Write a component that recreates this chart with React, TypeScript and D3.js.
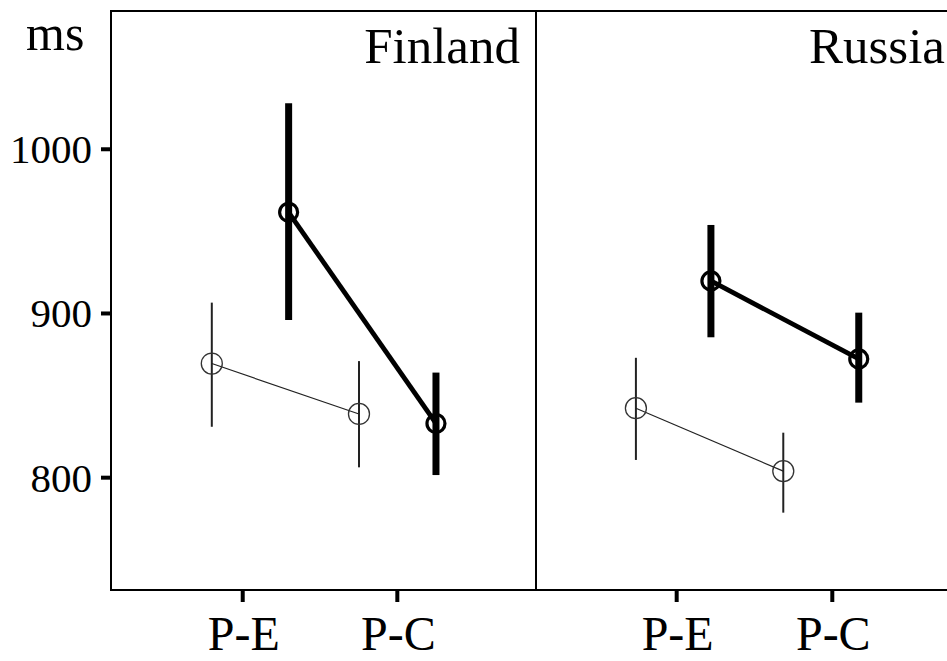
import React, { useEffect, useRef } from 'react';
import * as d3 from 'd3';

const categories = ['P-E', 'P-C'];
const countries = ['Finland', 'Russia'];
const yTicks = [800, 900, 1000];
const yLimits = [731.6, 1084.2];
// x limits of each panel in category units (1 = P-E, 2 = P-C)
const xLimits = [[0.148, 2.897], [0.096, 2.827]];

// dodged x position of each point, category units
const thinX = [[0.8, 1.752], [0.738, 1.685]];
const thickX = [[1.297, 2.25], [1.22, 2.17]];

const thinMean = [[869.5, 838.8], [842.3, 804]];
const thinLow = [[831, 806.3], [810.8, 778.7]];
const thinHigh = [[906.6, 871], [873, 827.4]];

const thickMean = [[961.6, 833], [919.8, 872.3]];
const thickLow = [[896, 801.6], [885.5, 845.7]];
const thickHigh = [[1028, 864], [953.9, 900.5]];

const W = 947;
const H = 661;

export default function App() {
  const svgRef = useRef<SVGSVGElement>(null);

  useEffect(() => {
    if (!svgRef.current) return;
    const svg = d3.select(svgRef.current);
    svg.selectAll('*').remove();

    const margin = { top: 11, left: 111, bottom: 71 };
    const panelW = 425;
    const plotH = H - margin.top - margin.bottom;
    const font = '"Liberation Serif", "Times New Roman", serif';

    const y = d3.scaleLinear().domain(yLimits).range([margin.top + plotH, margin.top]);

    // y axis
    const yAxis = svg.append('g').attr('transform', `translate(${margin.left},0)`);
    yAxis.selectAll('line.tick')
      .data(yTicks)
      .enter().append('line')
      .attr('x1', -10).attr('x2', 0)
      .attr('y1', d => y(d)).attr('y2', d => y(d))
      .attr('stroke', '#000').attr('stroke-width', 4);
    yAxis.selectAll('text')
      .data(yTicks)
      .enter().append('text')
      .attr('x', -19)
      .attr('y', d => y(d))
      .attr('dy', '0.34em')
      .attr('text-anchor', 'end')
      .attr('font-family', font)
      .attr('font-size', 41)
      .text(d => d);

    svg.append('text')
      .attr('x', 26).attr('y', 50)
      .attr('font-family', font).attr('font-size', 50)
      .text('ms');

    const series = [
      { x: thinX, mean: thinMean, low: thinLow, high: thinHigh, bar: 2, line: 1.2, ring: 1.3, r: 10.5, color: '#222' },
      { x: thickX, mean: thickMean, low: thickLow, high: thickHigh, bar: 7, line: 4.8, ring: 3.2, r: 9, color: '#000' },
    ];

    countries.forEach((country, p) => {
      const left = margin.left + p * panelW;
      const x = d3.scaleLinear().domain(xLimits[p]).range([left, left + panelW]);
      const g = svg.append('g');

      // x ticks and labels
      g.selectAll('line.xt')
        .data(categories)
        .enter().append('line')
        .attr('x1', (d, i) => x(i + 1)).attr('x2', (d, i) => x(i + 1))
        .attr('y1', margin.top + plotH).attr('y2', margin.top + plotH + 12)
        .attr('stroke', '#000').attr('stroke-width', 4);
      g.selectAll('text.xl')
        .data(categories)
        .enter().append('text')
        .attr('x', (d, i) => x(i + 1) + 1)
        .attr('y', margin.top + plotH + 60)
        .attr('text-anchor', 'middle')
        .attr('font-family', font)
        .attr('font-size', 48)
        .text(d => d);

      series.forEach(s => {
        const pts = categories.map((c, i) => ({
          x: s.x[p][i], m: s.mean[p][i], lo: s.low[p][i], hi: s.high[p][i],
        }));

        g.selectAll(null)
          .data(pts)
          .enter().append('line')
          .attr('x1', d => x(d.x)).attr('x2', d => x(d.x))
          .attr('y1', d => y(d.lo)).attr('y2', d => y(d.hi))
          .attr('stroke', s.color).attr('stroke-width', s.bar);

        g.append('path')
          .datum(pts)
          .attr('d', d3.line<any>().x(d => x(d.x)).y(d => y(d.m)))
          .attr('fill', 'none')
          .attr('stroke', s.color)
          .attr('stroke-width', s.line);

        g.selectAll(null)
          .data(pts)
          .enter().append('circle')
          .attr('cx', d => x(d.x)).attr('cy', d => y(d.m))
          .attr('r', s.r)
          .attr('fill', 'none')
          .attr('stroke', s.color === '#222' ? '#333' : '#000')
          .attr('stroke-width', s.ring);
      });

      g.append('text')
        .attr('x', left + panelW - 16)
        .attr('y', 63)
        .attr('text-anchor', 'end')
        .attr('font-family', font)
        .attr('font-size', 51)
        .text(country);

      // panel frame
      g.append('rect')
        .attr('x', left).attr('y', margin.top)
        .attr('width', panelW).attr('height', plotH)
        .attr('fill', 'none')
        .attr('stroke', '#000')
        .attr('stroke-width', 2);
    });
  }, []);

  return (
    <svg
      ref={svgRef}
      width={W}
      height={H}
      style={{ position: 'absolute', left: 0, top: 0, background: '#fff', overflow: 'hidden' }}
    />
  );
}
